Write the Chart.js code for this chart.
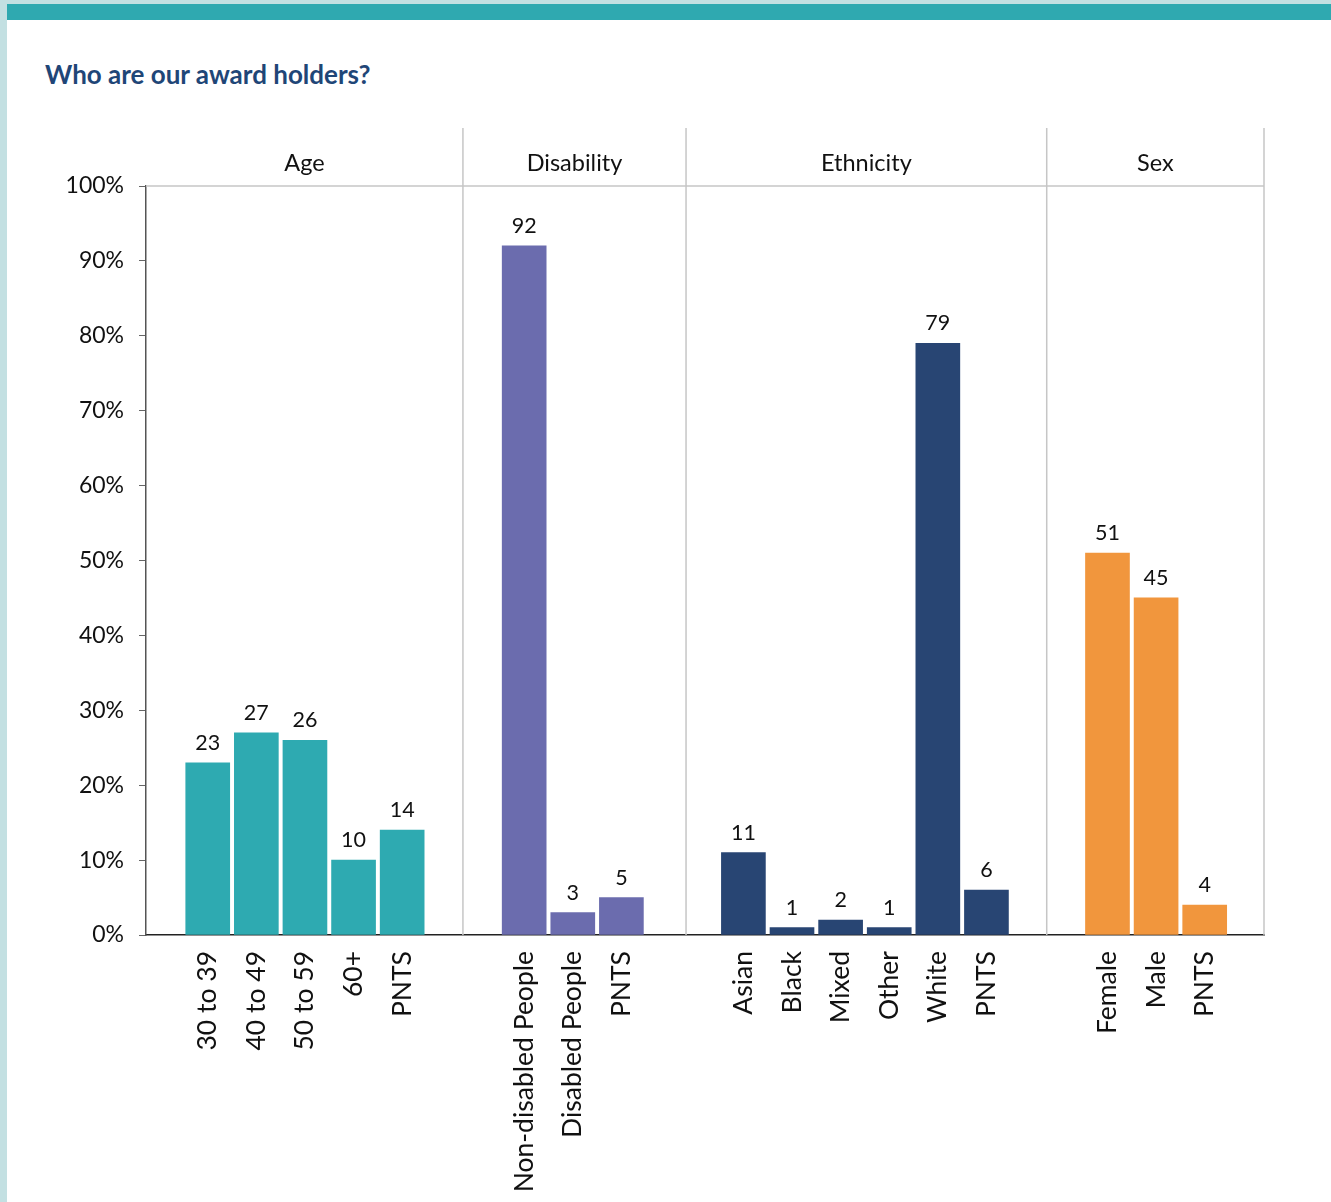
<!DOCTYPE html>
<html>
<head>
<meta charset="utf-8">
<script src="https://cdn.jsdelivr.net/npm/chart.js@4.4.1/dist/chart.umd.min.js"></script>
<style>
  html, body { margin: 0; padding: 0; background: #fff; }
  body { width: 1331px; height: 1202px; position: relative; overflow: hidden; font-family: Lato, "Open Sans", sans-serif; }
  #leftStrip { position: absolute; left: 0; top: 0; width: 7px; height: 1202px; background: #c3e0e2; }
  #topStrip { position: absolute; left: 0; top: 0; width: 1331px; height: 4px; background: #c3e0e2; }
  #topBar { position: absolute; left: 7px; top: 4px; width: 1324px; height: 16px; background: #2fa9b0; }
  #title { position: absolute; left: 45px; top: 59px; font-family: Lato, sans-serif; font-weight: 700; font-size: 26px; line-height: 30px; color: #1f4677; }
  #wrap { position: absolute; left: 0; top: 0; width: 1331px; height: 1202px; }
</style>
</head>
<body>
<div id="leftStrip"></div>
<div id="topStrip"></div>
<div id="topBar"></div>
<div id="title">Who are our award holders?</div>
<div id="wrap"><canvas id="c" width="1331" height="1202"></canvas></div>
<script>
// ---- data ----
const groupNames = ["Age", "Disability", "Ethnicity", "Sex"];
const ageLabels = ["30 to 39", "40 to 49", "50 to 59", "60+", "PNTS"];
const ageValues = [23, 27, 26, 10, 14];
const disabilityLabels = ["Non-disabled People", "Disabled People", "PNTS"];
const disabilityValues = [92, 3, 5];
const ethnicityLabels = ["Asian", "Black", "Mixed", "Other", "White", "PNTS"];
const ethnicityValues = [11, 1, 2, 1, 79, 6];
const sexLabels = ["Female", "Male", "PNTS"];
const sexValues = [51, 45, 4];
const yTicks = [0, 10, 20, 30, 40, 50, 60, 70, 80, 90, 100];

const groupColors = ["#2eaab1", "#6b6cae", "#284573", "#f1963d"];
// panel padding (band units) left / right of each group
const padLeft = [0.77, 0.76, 0.68, 0.75];
const padRight = [0.75, 0.83, 0.74, 0.72];

// ---- build layout (in band units) ----
const groups = [
  { labels: ageLabels, values: ageValues },
  { labels: disabilityLabels, values: disabilityValues },
  { labels: ethnicityLabels, values: ethnicityValues },
  { labels: sexLabels, values: sexValues }
];
let cursor = 0;
const points = [], colors = [], tickPos = [], tickLabels = [], panels = [];
groups.forEach((g, gi) => {
  const start = cursor;
  g.labels.forEach((lab, i) => {
    const x = start + padLeft[gi] + 0.5 + i;
    points.push({ x: x, y: g.values[i] });
    colors.push(groupColors[gi]);
    tickPos.push(x);
    tickLabels.push(lab);
  });
  cursor = start + padLeft[gi] + padRight[gi] + g.labels.length;
  panels.push({ name: groupNames[gi], start: start, end: cursor });
});
const totalUnits = cursor;

const facetPlugin = {
  id: 'facets',
  afterDatasetsDraw(chart) {
    const ctx = chart.ctx;
    const xs = chart.scales.x;
    const top = chart.chartArea.top, bottom = chart.chartArea.bottom;
    const stripTop = 128;
    ctx.save();
    ctx.strokeStyle = '#c6c6c6';
    ctx.lineWidth = 1.5;
    ctx.beginPath();
    ctx.moveTo(xs.getPixelForValue(0), top);
    ctx.lineTo(xs.getPixelForValue(totalUnits), top);
    ctx.stroke();
    panels.forEach((p) => {
      const xe = xs.getPixelForValue(p.end);
      ctx.beginPath();
      ctx.moveTo(xe, stripTop);
      ctx.lineTo(xe, bottom);
      ctx.stroke();
    });
    ctx.fillStyle = '#111';
    ctx.font = '23.5px Lato, sans-serif';
    ctx.textAlign = 'center';
    ctx.textBaseline = 'middle';
    panels.forEach(p => {
      const cx = (xs.getPixelForValue(p.start) + xs.getPixelForValue(p.end)) / 2;
      ctx.fillText(p.name, cx, 163);
    });
    ctx.font = '21.5px Lato, sans-serif';
    ctx.textBaseline = 'alphabetic';
    const meta = chart.getDatasetMeta(0);
    meta.data.forEach((bar, i) => {
      ctx.fillText(String(points[i].y), bar.x, bar.y - 13);
    });
    ctx.restore();
  }
};

new Chart(document.getElementById('c'), {
  type: 'bar',
  data: {
    datasets: [{
      data: points,
      backgroundColor: colors,
      borderWidth: 0,
      barThickness: 44
    }]
  },
  options: {
    responsive: false,
    animation: false,
    events: [],
    layout: { padding: { left: 60, right: 67, top: 186, bottom: 0 } },
    plugins: { legend: { display: false }, tooltip: { enabled: false } },
    scales: {
      x: {
        type: 'linear',
        offset: false,
        min: 0,
        max: totalUnits,
        afterBuildTicks: (s) => { s.ticks = tickPos.map(v => ({ value: v })); },
        afterFit: (s) => { s.height = 267; },
        grid: { display: false, drawTicks: false },
        border: { display: true, color: '#222', width: 1.5 },
        ticks: {
          autoSkip: false,
          minRotation: 90,
          maxRotation: 90,
          padding: 16,
          color: '#111',
          font: { family: 'Lato', size: 26.5 },
          callback: (v, i) => tickLabels[i]
        }
      },
      y: {
        min: 0,
        max: 100,
        afterBuildTicks: (s) => { s.ticks = yTicks.map(v => ({ value: v })); },
        afterFit: (s) => { s.width = 86; },
        grid: { drawOnChartArea: false, drawTicks: true, tickLength: 7, color: '#666' },
        border: { display: true, color: '#555', width: 1.5 },
        ticks: {
          padding: 15,
          color: '#111',
          font: { family: 'Lato', size: 23 },
          callback: (v) => v + '%'
        }
      }
    }
  },
  plugins: [facetPlugin]
});
</script>
</body>
</html>
